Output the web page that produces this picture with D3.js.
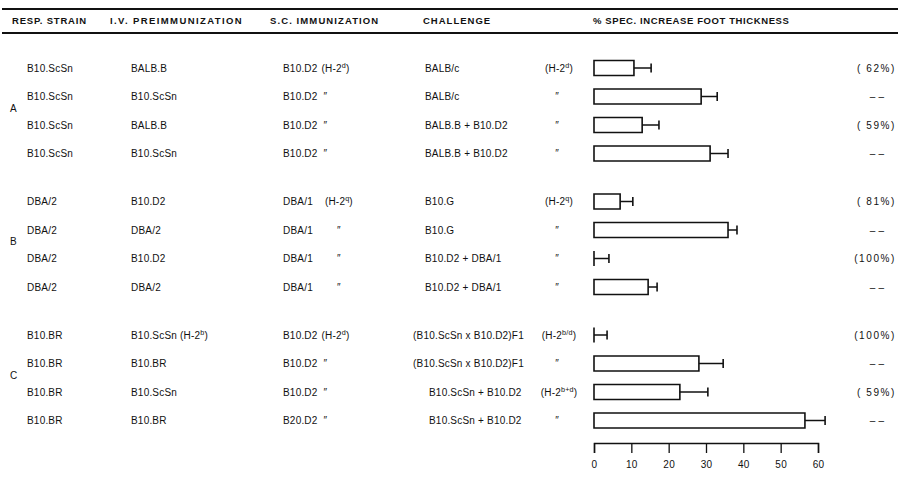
<!DOCTYPE html>
<html>
<head>
<meta charset="utf-8">
<script src="https://cdn.jsdelivr.net/npm/d3@7"></script>
<style>
  html, body { margin: 0; padding: 0; background: #fff; }
  svg { display: block; }
  text { font-family: "Liberation Sans", Arial, Helvetica, sans-serif; fill: #111; }
</style>
</head>
<body>
<svg id="chart" width="900" height="479"></svg>
<script>
// ---- data ----
const DITTO = "\u2033";
const groups = ["A", "B", "C"];
const groupOf = [0, 0, 0, 0, 1, 1, 1, 1, 2, 2, 2, 2];
const respStrain = ["B10.ScSn", "B10.ScSn", "B10.ScSn", "B10.ScSn",
                    "DBA/2", "DBA/2", "DBA/2", "DBA/2",
                    "B10.BR", "B10.BR", "B10.BR", "B10.BR"];
const ivPreimmunization = ["BALB.B", "B10.ScSn", "BALB.B", "B10.ScSn",
                           "B10.D2", "DBA/2", "B10.D2", "DBA/2",
                           "B10.ScSn", "B10.BR", "B10.ScSn", "B10.BR"];
const ivHaplotype = ["", "", "", "", "", "", "", "", "b", "", "", ""];
const scImmunization = ["B10.D2", "B10.D2", "B10.D2", "B10.D2",
                        "DBA/1", "DBA/1", "DBA/1", "DBA/1",
                        "B10.D2", "B10.D2", "B10.D2", "B20.D2"];
const scHaplotype = ["d", DITTO, DITTO, DITTO, "q", DITTO, DITTO, DITTO, "d", DITTO, DITTO, DITTO];
const challenge = ["BALB/c", "BALB/c", "BALB.B + B10.D2", "BALB.B + B10.D2",
                   "B10.G", "B10.G", "B10.D2 + DBA/1", "B10.D2 + DBA/1",
                   "(B10.ScSn x B10.D2)F1", "(B10.ScSn x B10.D2)F1",
                   "B10.ScSn + B10.D2", "B10.ScSn + B10.D2"];
const challengeHaplotype = ["d", DITTO, DITTO, DITTO, "q", DITTO, DITTO, DITTO, "b/d", DITTO, "b+d", DITTO];
// % specific increase in foot thickness (mean) and its error
const increase = [10.7, 28.7, 12.9, 31.1, 7.0, 35.9, 0, 14.5, 0, 28.1, 23.0, 56.5];
const errorVal = [4.6, 4.3, 4.5, 4.8, 3.4, 2.4, 4.0, 2.4, 3.5, 6.5, 7.5, 5.4];
const inhibition = ["( 62%)", "\u2013 \u2013", "( 59%)", "\u2013 \u2013",
                    "( 81%)", "\u2013 \u2013", "(100%)", "\u2013 \u2013",
                    "(100%)", "\u2013 \u2013", "( 59%)", "\u2013 \u2013"];
const headers = ["RESP. STRAIN", "I.V. PREIMMUNIZATION", "S.C. IMMUNIZATION", "CHALLENGE",
                 "% SPEC. INCREASE FOOT THICKNESS"];
const axisTicks = [0, 10, 20, 30, 40, 50, 60];

// ---- layout ----
const svg = d3.select("#chart");
const rows = d3.range(respStrain.length);
const rowY = i => 68 + i * 28.5 + groupOf[i] * 19.5;
const x = d3.scaleLinear().domain([0, 60]).range([594, 818]);
const barH = 15;
const fs = 10;

// header rules
[9, 33].forEach(y => svg.append("line")
  .attr("x1", 2).attr("x2", 898).attr("y1", y).attr("y2", y)
  .attr("stroke", "#111").attr("stroke-width", 2));

const headerX = [12, 110, 270, 423, 593];
const headerLS = [0.8, 1.4, 1.1, 1.0, 0.6];
svg.append("g").selectAll("text").data(headers).join("text")
  .attr("x", (d, i) => headerX[i]).attr("y", 24)
  .attr("font-size", 9.5).attr("font-weight", "bold")
  .attr("letter-spacing", (d, i) => headerLS[i])
  .text(d => d);

// "(H-2^x)" haplotype label
function haplotype(sel, hap) {
  sel.append("tspan").text("(H-2");
  sel.append("tspan").attr("font-size", fs * 0.72).attr("baseline-shift", "super").text(hap);
  sel.append("tspan").text(")");
}

const body = svg.append("g").attr("font-size", fs).attr("letter-spacing", 0.2);

// group letters
groups.forEach((g, gi) => {
  const idx = rows.filter(i => groupOf[i] === gi);
  const yMid = (rowY(idx[1]) + rowY(idx[2])) / 2;
  body.append("text").attr("x", 10).attr("y", yMid).attr("dy", "0.1em").text(g);
});

// text columns
rows.forEach(i => {
  const y = rowY(i);
  const gi = groupOf[i];
  const g = body.append("g").attr("transform", `translate(0,${y})`);
  g.append("text").attr("x", 27).attr("dy", "0.36em").text(respStrain[i]);

  const iv = g.append("text").attr("x", 131).attr("dy", "0.36em");
  iv.append("tspan").text(ivPreimmunization[i]);
  if (ivHaplotype[i]) { iv.append("tspan").text(" "); haplotype(iv, ivHaplotype[i]); }

  const sc = g.append("text").attr("x", 283).attr("dy", "0.36em").text(scImmunization[i]);
  const scEnd = 283 + sc.node().getComputedTextLength();
  if (scHaplotype[i] === DITTO) {
    g.append("text").attr("x", scEnd + (gi === 1 ? 24 : 6)).attr("dy", "0.36em").text(DITTO);
  } else {
    haplotype(g.append("text").attr("x", scEnd + (gi === 1 ? 12 : 4)).attr("dy", "0.36em"), scHaplotype[i]);
  }

  let chX = 425;
  if (challenge[i].startsWith("(")) chX = 413;
  else if (challenge[i].startsWith("B10.ScSn +")) chX = 429;
  g.append("text").attr("x", chX).attr("dy", "0.36em").text(challenge[i]);

  if (challengeHaplotype[i] === DITTO) {
    g.append("text").attr("x", 557).attr("text-anchor", "middle").attr("dy", "0.36em").text(DITTO);
  } else {
    const t = g.append("text").attr("x", 559).attr("text-anchor", "middle").attr("dy", "0.36em");
    haplotype(t, challengeHaplotype[i]);
  }

  const pct = inhibition[i];
  if (pct.startsWith("(")) {
    g.append("text").attr("x", 896).attr("text-anchor", "end").attr("dy", "0.36em")
      .attr("letter-spacing", 1.6).text(pct);
  } else {
    g.append("text").attr("x", 877).attr("text-anchor", "middle").attr("dy", "0.36em").text(pct);
  }
});

// bars as closed outlines (a zero value still shows its left edge)
const bars = svg.append("g");
bars.selectAll("path.bar").data(rows).join("path").attr("class", "bar")
  .attr("d", i => {
    const x0 = x(0), x1 = x(increase[i]);
    const y0 = rowY(i) - barH / 2, y1 = rowY(i) + barH / 2;
    return `M${x0},${y0}H${x1}V${y1}H${x0}Z`;
  })
  .attr("fill", "#fff").attr("stroke", "#111").attr("stroke-width", 1.6);

// error bars
bars.selectAll("line.err").data(rows).join("line").attr("class", "err")
  .attr("x1", i => x(increase[i])).attr("x2", i => x(increase[i] + errorVal[i]))
  .attr("y1", i => rowY(i)).attr("y2", i => rowY(i))
  .attr("stroke", "#111").attr("stroke-width", 1.5);
bars.selectAll("line.cap").data(rows).join("line").attr("class", "cap")
  .attr("x1", i => x(increase[i] + errorVal[i])).attr("x2", i => x(increase[i] + errorVal[i]))
  .attr("y1", i => rowY(i) - 4.5).attr("y2", i => rowY(i) + 4.5)
  .attr("stroke", "#111").attr("stroke-width", 1.6);

// x axis
const axis = svg.append("g").attr("transform", "translate(0,443)")
  .call(d3.axisBottom(x).tickValues(axisTicks).tickSize(10).tickPadding(8));
axis.select(".domain").attr("stroke", "#111").attr("stroke-width", 1.5);
axis.selectAll(".tick line").attr("stroke", "#111").attr("stroke-width", 1.3);
axis.selectAll(".tick text").attr("font-size", 10)
  .attr("font-family", "Liberation Sans, Arial, sans-serif").attr("fill", "#111")
  .attr("letter-spacing", 0.3);
</script>
</body>
</html>
